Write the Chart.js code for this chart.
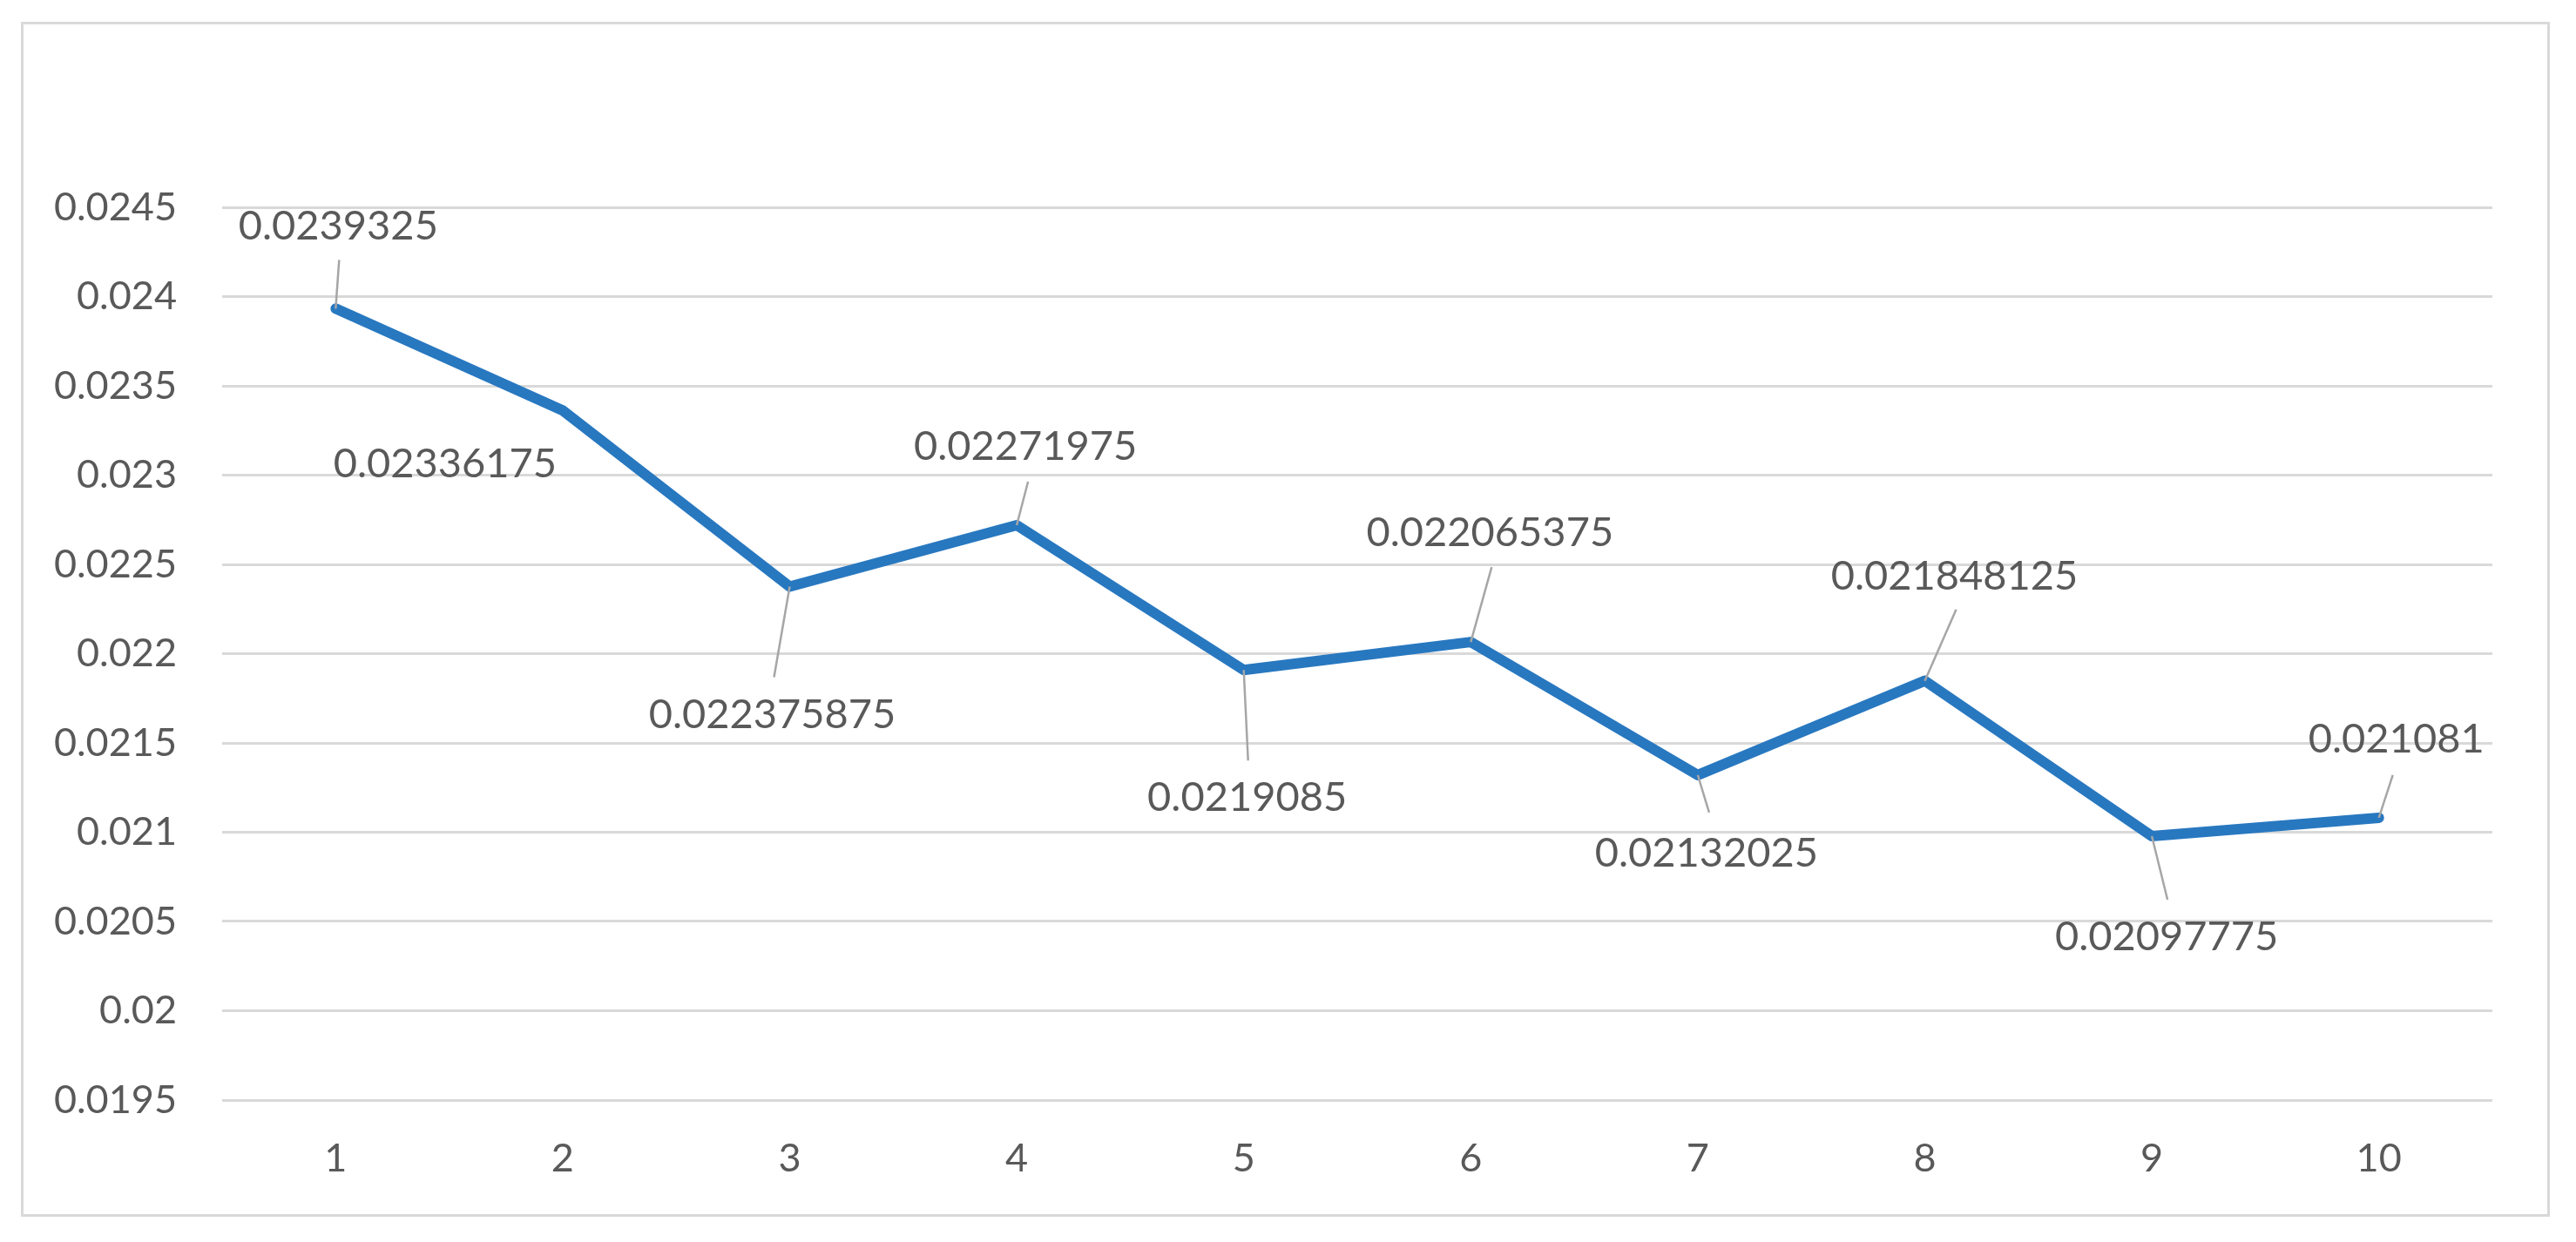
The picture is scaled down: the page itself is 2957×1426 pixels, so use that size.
<!DOCTYPE html>
<html>
<head>
<meta charset="utf-8">
<script src="https://cdn.jsdelivr.net/npm/chart.js@4.4.1/dist/chart.umd.min.js"></script>
<style>
  html, body { margin: 0; padding: 0; background: #ffffff; }
  #wrap { position: absolute; left: 0; top: 0; width: 2957px; height: 1426px; }
  #frame { position: absolute; left: 24px; top: 25px; width: 2903px; height: 1372px;
           border: 3px solid #d9d9d9; box-sizing: border-box; pointer-events: none; }
  canvas { position: absolute; left: 0; top: 0; }
</style>
</head>
<body>
<div id="wrap">
  <canvas id="c" width="2957" height="1426"></canvas>
  <div id="frame"></div>
</div>
<script>
// ---- data ----
const categories = ["1", "2", "3", "4", "5", "6", "7", "8", "9", "10"];
const seriesValues = [0.0239325, 0.02336175, 0.022375875, 0.02271975, 0.0219085,
                      0.022065375, 0.02132025, 0.021848125, 0.02097775, 0.021081];
const dataLabelTexts = ["0.0239325", "0.02336175", "0.022375875", "0.02271975", "0.0219085",
                        "0.022065375", "0.02132025", "0.021848125", "0.02097775", "0.021081"];
const yTickValues = [0.0195, 0.02, 0.0205, 0.021, 0.0215, 0.022, 0.0225, 0.023, 0.0235, 0.024, 0.0245];
const yTickLabels = ["0.0195", "0.02", "0.0205", "0.021", "0.0215", "0.022", "0.0225", "0.023", "0.0235", "0.024", "0.0245"];

// ---- label placement (offsets from each point, in px) ----
const labelOffsets = [[3,-94],[-135,62],[-20,147],[10,-90],[4,147],[22,-125],[10,90],[34,-120],[17,116],[20,-90]];
const leaderEnds = [[4,-56],null,[-18,104],[13,-50],[5,104],[24,-86],[13,43],[36,-82],[18,73],[16,-49]];

const FONT = "Lato, 'Liberation Sans', sans-serif";
const TEXT_COLOR = "#595959";

const dataLabelPlugin = {
  id: 'excelDataLabels',
  afterDatasetsDraw(chart) {
    const ctx = chart.ctx;
    const meta = chart.getDatasetMeta(0);
    ctx.save();
    meta.data.forEach((pt, i) => {
      const px = pt.x, py = pt.y;
      const le = leaderEnds[i];
      if (le) {
        ctx.beginPath();
        ctx.strokeStyle = '#a6a6a6';
        ctx.lineWidth = 2.5;
        ctx.moveTo(px, py);
        ctx.lineTo(px + le[0], py + le[1]);
        ctx.stroke();
      }
    });
    ctx.fillStyle = TEXT_COLOR;
    ctx.font = "47px " + FONT;
    ctx.textAlign = 'center';
    ctx.textBaseline = 'middle';
    meta.data.forEach((pt, i) => {
      const off = labelOffsets[i];
      ctx.fillText(dataLabelTexts[i], pt.x + off[0], pt.y + off[1]);
    });
    ctx.restore();
  }
};

new Chart(document.getElementById('c'), {
  type: 'line',
  data: {
    labels: categories,
    datasets: [{
      data: seriesValues,
      borderColor: '#2878c0',
      borderWidth: 12,
      borderJoinStyle: 'round',
      borderCapStyle: 'round',
      pointRadius: 0,
      pointHoverRadius: 0,
      tension: 0,
      fill: false
    }]
  },
  options: {
    responsive: false,
    animation: false,
    devicePixelRatio: 1,
    layout: { padding: { top: 238, right: 96, bottom: 0, left: 0 } },
    plugins: { legend: { display: false }, tooltip: { enabled: false } },
    scales: {
      x: {
        offset: true,
        grid: { display: false, drawTicks: false },
        border: { display: false },
        ticks: { color: TEXT_COLOR, font: { family: FONT, size: 45 }, padding: 40, maxRotation: 0, autoSkip: false },
        afterFit(s) { s.height = 163; }
      },
      y: {
        min: 0.0195,
        max: 0.0245,
        grid: { color: '#d9d9d9', lineWidth: 3, drawTicks: false },
        border: { display: false },
        ticks: {
          color: TEXT_COLOR,
          font: { family: FONT, size: 45 },
          padding: 52,
          callback(value) {
            const idx = yTickValues.findIndex(v => Math.abs(v - value) < 1e-9);
            return idx >= 0 ? yTickLabels[idx] : '';
          }
        },
        afterBuildTicks(s) { s.ticks = yTickValues.map(v => ({ value: v })); },
        afterFit(s) { s.width = 255; }
      }
    }
  },
  plugins: [dataLabelPlugin]
});
</script>
</body>
</html>
